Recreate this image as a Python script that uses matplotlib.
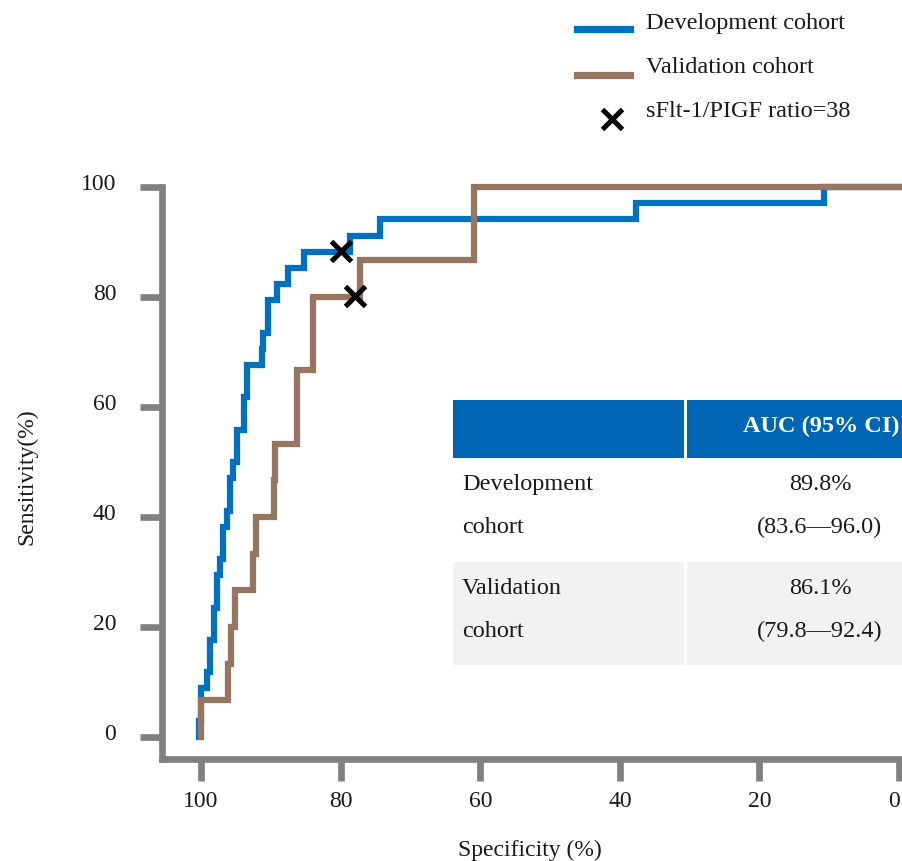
import matplotlib
matplotlib.use("Agg")
import matplotlib.pyplot as plt
import matplotlib.transforms as mtransforms
from matplotlib.patches import Rectangle
from matplotlib.lines import Line2D

plt.rcParams["font.family"] = ["Liberation Serif", "DejaVu Serif"]

# ROC steps: specificity (%) where the curve rises, sensitivity (%) reached
dev_spec = [100.3, 100.3, 100.0, 99.1, 98.7, 98.2, 97.7, 97.3, 96.8, 96.3, 95.8, 95.4, 94.9,
            93.8, 93.4, 91.3, 91.1, 90.4, 89.1, 87.5, 85.3, 78.6, 74.3, 37.7, 10.7, 0.0]
dev_sens = [0.0, 2.94, 8.82, 11.76, 17.65, 23.53, 29.41, 32.35, 38.24, 41.18, 47.06, 50.0, 55.88,
            61.76, 67.65, 70.59, 73.53, 79.41, 82.35, 85.29, 88.24, 91.18, 94.12, 97.06, 100.0, 100.0]

val_spec = [100.0, 100.0, 96.2, 95.7, 95.1, 92.5, 92.2, 89.6, 89.4, 86.3, 84.0, 77.2, 60.9, 0.0]
val_sens = [0.0, 6.67, 13.33, 20.0, 26.67, 33.33, 40.0, 46.67, 53.33, 66.67, 80.0, 86.67, 100.0, 100.0]

# cut-off points (sFlt-1/PlGF = 38)
cut_spec = [80.0, 78.0]
cut_sens = [88.4, 80.2]

x_ticks = [100, 80, 60, 40, 20, 0]
y_ticks = [0, 20, 40, 60, 80, 100]

series_names = ["Development cohort", "Validation cohort"]
marker_label = "sFlt-1/PIGF ratio=38"
table_header = "AUC (95% CI)"
table_rows = [("Development", "cohort", "89.8%", "(83.6\u201496.0)"),
              ("Validation", "cohort", "86.1%", "(79.8\u201492.4)")]

BLUE = "#0070c0"
BROWN = "#967660"
GRAY = "#808080"
TXT = "#1a1a1a"

W, H = 903, 862
fig = plt.figure(figsize=(W / 100, H / 100), dpi=100)


def fx(px):
    return px / W


def fy(py):
    return 1 - py / H


ax = fig.add_axes([fx(162), fy(760), fx(899) - fx(162), fy(188) - fy(760)])
ax.set_xlim(105.6, 0)
ax.set_ylim(-4.0, 100)

ax.step(dev_spec, dev_sens, where="post", color=BLUE, lw=4.5, clip_on=False,
        solid_joinstyle="miter", zorder=3)
ax.step(val_spec, val_sens, where="post", color=BROWN, lw=4.5, clip_on=False,
        solid_joinstyle="miter", zorder=4)
ax.plot(cut_spec, cut_sens, ls="none", marker="x", ms=15, mew=3.6, color="black",
        clip_on=False, zorder=5)

for side in ("top", "right"):
    ax.spines[side].set_visible(False)
for side in ("left", "bottom"):
    ax.spines[side].set_color(GRAY)
    ax.spines[side].set_linewidth(4.8)
    ax.spines[side].set_capstyle("projecting")

ax.set_xticks(x_ticks)
ax.set_yticks(y_ticks)
ax.tick_params(axis="both", direction="out", color=GRAY, width=4.8, labelcolor=TXT,
               labelsize=17)
ax.tick_params(axis="y", length=16, pad=17)
ax.tick_params(axis="x", length=16, pad=6)
shift = mtransforms.ScaledTranslation(0, 6 / 100, fig.dpi_scale_trans)
for lab in ax.get_yticklabels():
    lab.set_transform(lab.get_transform() + shift)
# last x label sits against the right edge
edge = mtransforms.ScaledTranslation(-5 / 100, 0, fig.dpi_scale_trans)
xl = ax.get_xticklabels()[-1]
xl.set_transform(xl.get_transform() + edge)

fig.text(fx(530), fy(850), "Specificity (%)", ha="center", va="center", fontsize=17, color=TXT)
fig.text(fx(27), fy(477), "Sensitivity(%)", ha="center", va="center", rotation=90,
         fontsize=17, color=TXT)

# legend drawn by hand to sit above the plot
fig.add_artist(Line2D([fx(577), fx(630)], [fy(30), fy(30)], color=BLUE, lw=5.2))
fig.add_artist(Line2D([fx(577), fx(630)], [fy(76), fy(76)], color=BROWN, lw=5.2))
fig.add_artist(Line2D([fx(612)], [fy(120)], ls="none", marker="x", ms=15, mew=3.6, color="black"))
fig.text(fx(646), fy(29), series_names[0], ha="left", va="baseline", fontsize=17.5, color=TXT)
fig.text(fx(646), fy(73), series_names[1], ha="left", va="baseline", fontsize=17.5, color=TXT)
fig.text(fx(646), fy(117), marker_label, ha="left", va="baseline", fontsize=17.5, color=TXT)


# AUC table
def cell(x0, y0, x1, y1, color):
    fig.add_artist(Rectangle((fx(x0), fy(y1)), fx(x1) - fx(x0), fy(y0) - fy(y1),
                             facecolor=color, edgecolor="none", transform=fig.transFigure))


cell(453, 401, 684, 459, "#0066b3")
cell(687, 401, 903, 459, "#0066b3")
cell(453, 563, 684, 666, "#f2f2f2")
cell(687, 563, 903, 666, "#f2f2f2")
fig.text(fx(821), fy(432), table_header, ha="center", va="baseline", fontsize=17.5,
         fontweight="bold", color="white")
for (a, b, v, ci), base in zip(table_rows, [490, 594]):
    fig.text(fx(462), fy(base), a, ha="left", va="baseline", fontsize=17.5, color=TXT)
    fig.text(fx(462), fy(base + 43), b, ha="left", va="baseline", fontsize=17.5, color=TXT)
    fig.text(fx(820), fy(base), v, ha="center", va="baseline", fontsize=17.5, color=TXT)
    fig.text(fx(820), fy(base + 43), ci, ha="center", va="baseline", fontsize=17.5, color=TXT)

fig.savefig("out.png", dpi=100)
